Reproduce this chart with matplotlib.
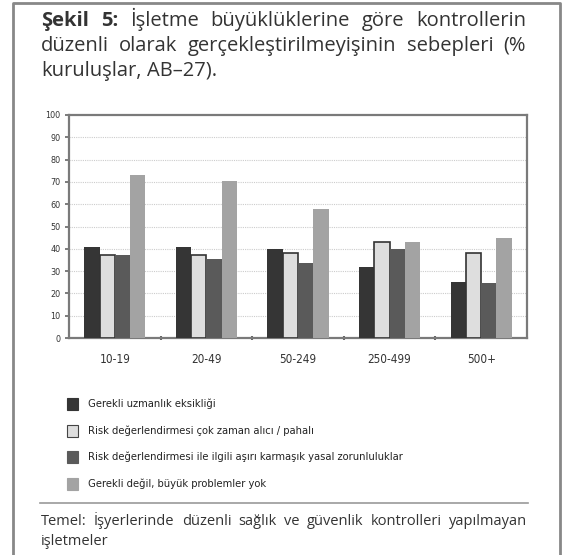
import numpy as np
import matplotlib.pyplot as plt
from matplotlib.patches import Rectangle
from matplotlib.lines import Line2D

categories = ['10-19', '20-49', '50-249', '250-499', '500+']
series_names = ['Gerekli uzmanlık eksikliği',
                'Risk değerlendirmesi çok zaman alıcı / pahalı',
                'Risk değerlendirmesi ile ilgili aşırı karmaşık yasal zorunluluklar',
                'Gerekli değil, büyük problemler yok']
uzmanlik = [41, 41, 40, 32, 25]
zaman = [37, 37, 38, 43, 38]
yasal = [37, 35.5, 33.5, 40, 24.5]
gerekli_degil = [73, 70.5, 58, 43, 45]
yticks = list(range(0, 101, 10))

colors = ['#353535', '#dedede', '#5a5a5a', '#a3a3a3']
edges = ['#353535', '#333333', '#5a5a5a', '#a3a3a3']

W, H = 567, 555
fig = plt.figure(figsize=(W / 100, H / 100), dpi=100)
narrow = dict(family='DejaVu Sans', stretch='condensed')
body = ['Open Sans', 'DejaVu Sans']


def fx(px):
    return px / W


def fy(py):
    return 1 - py / H


# outer frame
fig.add_artist(Line2D([fx(13), fx(13), fx(560), fx(560)], [0, fy(3), fy(3), 0],
                      color='#888888', lw=2, transform=fig.transFigure))

ax = fig.add_axes([fx(69), fy(338), fx(527) - fx(69), fy(115) - fy(338)])
x = np.arange(len(categories))
bw = 0.167
data = [uzmanlik, zaman, yasal, gerekli_degil]
for i, vals in enumerate(data):
    ax.bar(x + (i - 1.5) * bw, vals, bw, color=colors[i], edgecolor=edges[i],
           linewidth=1.2 if i == 1 else 0, zorder=3)

ax.set_ylim(0, 100)
ax.set_xlim(-0.5, len(categories) - 0.5)
ax.set_yticks(yticks)
ax.set_yticklabels([str(t) for t in yticks], fontsize=6.5, color='#333333', **narrow)
ax.set_xticks(x)
ax.set_xticklabels(categories, fontsize=8.5, color='#333333', **narrow)
ax.set_xticks(np.arange(0.5, len(categories) - 0.5, 1), minor=True)
ax.tick_params(axis='x', which='major', length=0, pad=11)
ax.tick_params(axis='x', which='minor', length=3, width=1.5, color='#666666', direction='inout')
ax.tick_params(axis='y', length=3, width=1.2, color='#666666', pad=3)
for s in ax.spines.values():
    s.set_color('#7a7a7a')
    s.set_linewidth(1.6)
for t in yticks[1:-1]:
    ax.axhline(t, color='#cccccc', lw=0.8, ls=(0, (1, 1)), zorder=1)

# legend
for i, name in enumerate(series_names):
    yc = 404 + i * 26.5
    fig.add_artist(Rectangle((fx(67), fy(yc + 6)), fx(11), fy(yc - 6) - fy(yc + 6),
                             facecolor=colors[i], edgecolor='#444444' if i == 1 else colors[i],
                             lw=0.8, transform=fig.transFigure))
    fig.text(fx(88), fy(yc), name, fontsize=8, color='#222222', va='center', **narrow)

fig.add_artist(Line2D([fx(40), fx(528)], [fy(503), fy(503)], color='#999999', lw=1.2,
                      transform=fig.transFigure))

renderer = fig.canvas.get_renderer()


def justified(words, left, right, yb, size, color, weights=None, justify=True):
    weights = weights or ['normal'] * len(words)
    texts = [fig.text(0, fy(yb), w, family=body, fontsize=size, color=color,
                      fontweight=wt, va='baseline') for w, wt in zip(words, weights)]
    widths = [t.get_window_extent(renderer).width for t in texts]
    if justify and len(words) > 1:
        gap = (right - left - sum(widths)) / (len(words) - 1)
    else:
        gap = renderer.points_to_pixels(size) * 0.26
    pos = left
    for t, w in zip(texts, widths):
        t.set_x(fx(pos))
        pos += w + gap


tc = '#333333'
justified(['Şekil', '5:', 'İşletme', 'büyüklüklerine', 'göre', 'kontrollerin'],
          41, 526, 26, 14.5, tc, ['bold', 'bold'] + ['normal'] * 4)
justified(['düzenli', 'olarak', 'gerçekleştirilmeyişinin', 'sebepleri', '(%'],
          41, 526, 51, 14.5, tc)
justified(['kuruluşlar,', 'AB–27).'], 41, 526, 76, 14.5, tc, justify=False)

justified(['Temel:', 'İşyerlerinde', 'düzenli', 'sağlık', 've', 'güvenlik',
           'kontrolleri', 'yapılmayan'], 41, 527, 525, 10.5, tc)
justified(['işletmeler'], 41, 527, 545, 10.5, tc, justify=False)

fig.savefig('out.png', dpi=100)
